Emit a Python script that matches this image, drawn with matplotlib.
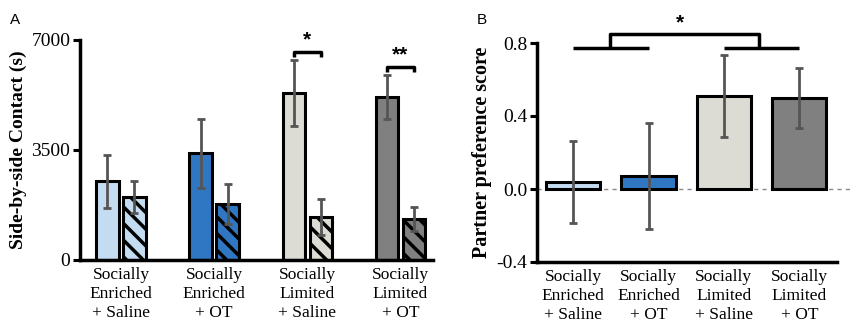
import matplotlib
matplotlib.use("Agg")
import matplotlib.pyplot as plt
import numpy as np

# ---- data ----
groups = ["Socially\nEnriched\n+ Saline", "Socially\nEnriched\n+ OT",
          "Socially\nLimited\n+ Saline", "Socially\nLimited\n+ OT"]
partner_contact = [2500, 3400, 5300, 5200]
partner_err = [850, 1100, 1050, 700]
stranger_contact = [2000, 1780, 1370, 1300]
stranger_err = [520, 630, 570, 380]
pref_score = [0.04, 0.07, 0.51, 0.50]
pref_err = [0.225, 0.29, 0.225, 0.165]
colors = ["#c4dcf1", "#2f77c3", "#dcdcd5", "#808080"]
yticks_a = [0, 3500, 7000]
yticks_b = [-0.4, 0.0, 0.4, 0.8]

plt.rcParams['hatch.linewidth'] = 2.5
serif = ['Liberation Serif', 'DejaVu Serif']
sans = ['Liberation Sans', 'DejaVu Sans']

W, H = 850, 329
fig = plt.figure(figsize=(W/100, H/100), dpi=100)

def ax_rect(l, r, t, b):
    return [l/W, 1-b/H, (r-l)/W, (b-t)/H]

errc = "#555555"

# ---- Panel A ----
axA = fig.add_axes(ax_rect(80, 433, 40, 260))
x = np.arange(4)
off = 0.145
bw = 0.24
for i in range(4):
    axA.bar(x[i]-off, partner_contact[i], bw, color=colors[i], edgecolor='black', linewidth=2.2, zorder=2)
    axA.bar(x[i]+off, stranger_contact[i], bw, color=colors[i], edgecolor='black', linewidth=2.2,
            hatch='\\\\', zorder=2)
axA.errorbar(x-off, partner_contact, yerr=partner_err, fmt='none', ecolor=errc, elinewidth=2, capsize=3, capthick=2, zorder=3)
axA.errorbar(x+off, stranger_contact, yerr=stranger_err, fmt='none', ecolor=errc, elinewidth=2, capsize=3, capthick=2, zorder=3)
axA.set_xlim(-0.44, 3.35)
axA.set_ylim(0, 7000)
axA.set_yticks(yticks_a)
axA.set_yticklabels([str(v) for v in yticks_a], family=serif, fontsize=14)
axA.set_xticks(x)
axA.set_xticklabels(groups, family=serif, fontsize=12.5, linespacing=1.25)
axA.tick_params(axis='x', length=0, pad=5)
axA.tick_params(axis='y', length=5, width=2.2, pad=2)
for s in ['top', 'right']:
    axA.spines[s].set_visible(False)
for s in ['left', 'bottom']:
    axA.spines[s].set_linewidth(2.5)
axA.set_ylabel("Side-by-side Contact (s)", family=serif, fontsize=14, fontweight='bold', labelpad=3)

def bracket(ax, x0, x1, y, drop, lw=2.5):
    ax.plot([x0, x0, x1, x1], [y-drop, y, y, y-drop], color='black', lw=lw, clip_on=False,
            solid_capstyle='butt', zorder=4)

bracket(axA, 2-off, 2+off, 6618, 150)
axA.text(2, 6700, "*", ha='center', va='bottom', fontsize=15, fontweight='bold', family=sans)
bracket(axA, 3-off, 3+off, 6141, 150)
axA.text(3, 6220, "**", ha='center', va='bottom', fontsize=15, fontweight='bold', family=sans)

fig.text(10/W, 1-20/H, "A", family=sans, fontsize=11, va='center', ha='left')

# ---- Panel B ----
axB = fig.add_axes(ax_rect(537, 837, 43, 262))
axB.bar(x, pref_score, 0.72, color=colors, edgecolor='black', linewidth=2.2, zorder=2)
axB.errorbar(x, pref_score, yerr=pref_err, fmt='none', ecolor=errc, elinewidth=2, capsize=3, capthick=2, zorder=3)
axB.set_xlim(-0.48, 3.5)
axB.set_ylim(-0.4, 0.8)
axB.plot([-0.48, 3.7], [0, 0], ls=(0, (3, 3)), color='#888888', lw=1, clip_on=False, zorder=1)
axB.set_yticks(yticks_b)
axB.set_yticklabels(["%.1f" % v for v in yticks_b], family=serif, fontsize=14)
axB.set_xticks(x)
axB.set_xticklabels(groups, family=serif, fontsize=12.5, linespacing=1.25)
axB.tick_params(axis='x', length=0, pad=5)
axB.tick_params(axis='y', length=5, width=2.2, pad=2)
for s in ['top', 'right']:
    axB.spines[s].set_visible(False)
for s in ['left', 'bottom']:
    axB.spines[s].set_linewidth(2.5)
axB.set_ylabel("Partner preference score", family=serif, fontsize=14.5, fontweight='bold', labelpad=3)

lw = 2.5
axB.plot([0, 1], [0.775, 0.775], color='black', lw=lw, clip_on=False, solid_capstyle='butt')
axB.plot([2, 3], [0.775, 0.775], color='black', lw=lw, clip_on=False, solid_capstyle='butt')
axB.plot([0.49, 0.49, 2.47, 2.47], [0.775, 0.85, 0.85, 0.775], color='black', lw=lw, clip_on=False,
         solid_capstyle='butt')
axB.text(1.42, 0.86, "*", ha='center', va='bottom', fontsize=15, fontweight='bold', family=sans)

fig.text(482/W, 1-20/H, "B", family=sans, fontsize=11, va='center', ha='center')

fig.savefig("out.png", dpi=100)
